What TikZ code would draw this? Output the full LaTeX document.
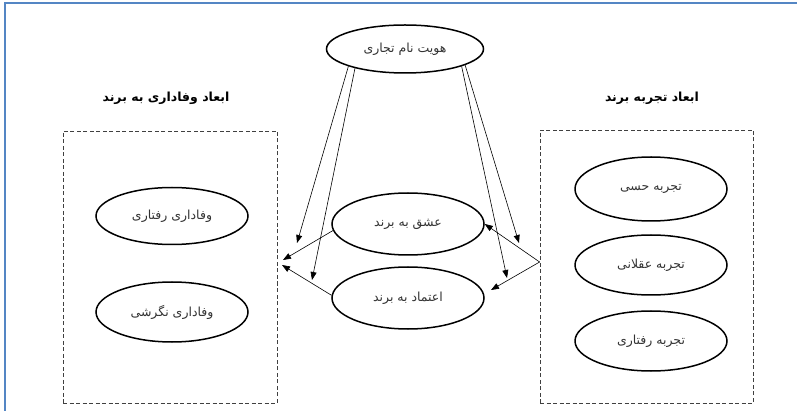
\documentclass[tikz,border=0pt]{standalone}
\usepackage{fontspec}
\usetikzlibrary{shapes.geometric,arrows.meta}
\TeXXeTstate=1
\newfontfamily\farsi[Script=Arabic]{DejaVu Sans}
\newcommand{\fa}[1]{\beginR#1\endR}
\definecolor{frameblue}{RGB}{84,134,196}
\tikzstyle{dim} = [ellipse, draw=black, line width=1.5pt, minimum width=152pt, minimum height=60pt, text centered, text=black!80, font=\farsi\fontsize{12.5}{14}\selectfont]
\tikzstyle{dimbox} = [rectangle, draw=black!75, line width=0.8pt, dash pattern=on 4pt off 2.5pt]
\tikzstyle{title} = [text centered, font=\farsi\bfseries\fontsize{12.5}{14}\selectfont]
\tikzstyle{arrow} = [line width=0.6pt, ->, >={Triangle[length=8pt,width=6pt]}]

\begin{document}
\begin{tikzpicture}[x=1pt, y=-1pt, node distance=76pt]
  \useasboundingbox (0,0) rectangle (797,411);
  \draw [frameblue, line width=2pt] (5,411) -- (5,3) -- (797,3);

  \node (loybox) [dimbox, minimum width=214pt, minimum height=272pt] at (170,267) {};
  \node (expbox) [dimbox, minimum width=213pt, minimum height=273pt] at (646.5,266.5) {};
  \node (loytitle) [title] at (166,98) {\fa{ابعاد وفاداری به برند}};
  \node (exptitle) [title] at (652,98) {\fa{ابعاد تجربه برند}};

  \node (ident) [dim, minimum width=157pt, minimum height=48pt] at (405,49) {\fa{هویت نام تجاری}};
  \node (love) [dim, minimum height=62pt] at (408,224) {\fa{عشق به برند}};
  \node (trust) [dim, minimum height=62pt, below of=love, yshift=2pt] {\fa{اعتماد به برند}};

  \node (loybehav) [dim, minimum height=57pt] at (172,216) {\fa{وفاداری رفتاری}};
  \node (loyattit) [dim, below of=loybehav, yshift=-20pt] {\fa{وفاداری نگرشی}};

  \node (expsense) [dim, minimum height=64pt] at (651,189) {\fa{تجربه حسی}};
  \node (expreason) [dim, below of=expsense] {\fa{تجربه عقلانی}};
  \node (expbehav) [dim, below of=expreason] {\fa{تجربه رفتاری}};

  \coordinate (lfar) at (297,243);
  \coordinate (lnear) at (312,280);
  \coordinate (rfar) at (519,243);
  \coordinate (rnear) at (507,278);
  \coordinate (ltipa) at (283,260);
  \coordinate (ltipb) at (282,265);
  \coordinate (rtip) at (491,290);

  \draw [arrow] (ident.197) -- (lfar);
  \draw [arrow] (ident.201) -- (lnear);
  \draw [arrow] (ident.343) -- (rnear);
  \draw [arrow] (ident.345) -- (rfar);

  \draw [arrow] (love.185) -- (ltipa);
  \draw [arrow] (trust.178) -- (ltipb);

  \draw [arrow] ([yshift=4.5pt]expbox.west) -- (love.east);
  \draw [arrow] ([yshift=4.5pt]expbox.west) -- (rtip);
\end{tikzpicture}
\end{document}
